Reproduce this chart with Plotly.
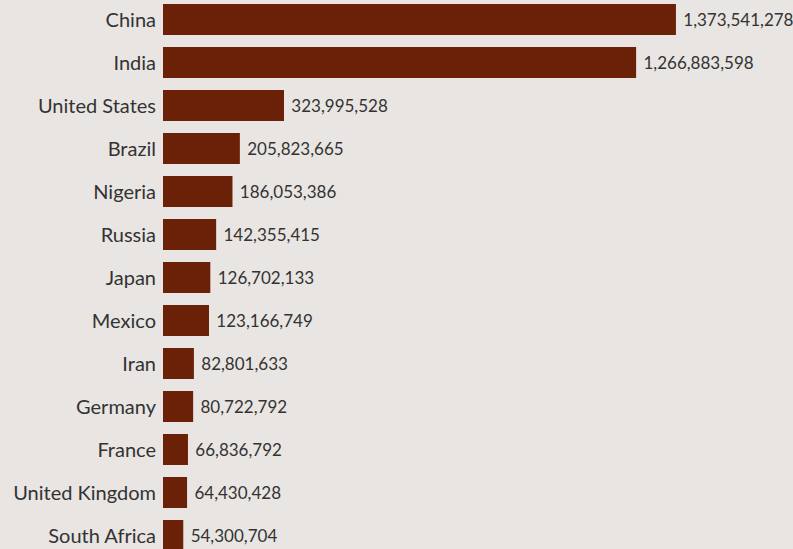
import plotly.graph_objects as go

countries = ["China", "India", "United States", "Brazil", "Nigeria", "Russia", "Japan",
             "Mexico", "Iran", "Germany", "France", "United Kingdom", "South Africa"]
population = [1373541278, 1266883598, 323995528, 205823665, 186053386, 142355415, 126702133,
              123166749, 82801633, 80722792, 66836792, 64430428, 54300704]

labels = [" " + f"{v:,}" for v in population]

BG = "#e9e5e2"
BAR = "#6b2107"
TXT = "#333333"
FONT = "Lato"

fig = go.Figure(go.Bar(
    y=countries, x=population, orientation="h",
    marker=dict(color=BAR, line=dict(width=0)),
    text=labels, textposition="outside", constraintext="none", cliponaxis=False,
    textfont=dict(family=FONT, size=17, color=TXT),
    hoverinfo="skip",
))

fig.update_layout(
    width=793, height=549,
    margin=dict(l=163, r=0, t=0, b=0),
    paper_bgcolor=BG, plot_bgcolor=BG,
    bargap=0.28,
    showlegend=False,
    font=dict(family=FONT, size=17, color=TXT),
    xaxis=dict(range=[0, 1.687e9], visible=False, fixedrange=True),
    yaxis=dict(range=[12.314, -0.4535], showgrid=False, zeroline=False, showline=False,
               ticks="", ticklabelstandoff=6, tickfont=dict(family=FONT, size=20, color=TXT),
               fixedrange=True),
)

fig.write_html("out.html", config={"displayModeBar": False, "staticPlot": True},
               post_script="document.body.style.margin='0';document.body.style.background='#e9e5e2';")
